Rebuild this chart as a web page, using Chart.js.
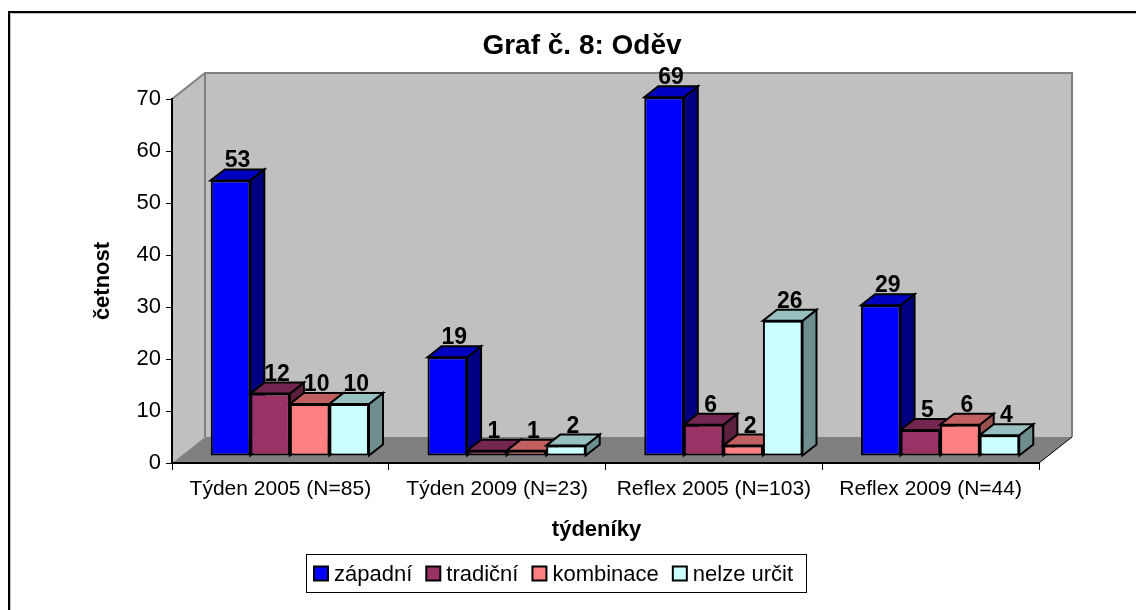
<!DOCTYPE html>
<html>
<head>
<meta charset="utf-8">
<style>
  html, body { margin: 0; padding: 0; background: #fff; }
  #box { width: 1136px; height: 610px; }
</style>
<script src="https://cdn.jsdelivr.net/npm/chart.js@4"></script>
</head>
<body>
<div id="box"><canvas id="chart" width="1136" height="610"></canvas></div>
<script>
var categories = ["Týden 2005 (N=85)", "Týden 2009 (N=23)", "Reflex 2005 (N=103)", "Reflex 2009 (N=44)"];
var zapadni = [53, 19, 69, 29];
var tradicni = [12, 1, 6, 5];
var kombinace = [10, 1, 2, 6];
var nelzeUrcit = [10, 2, 26, 4];
var seriesNames = ["západní", "tradiční", "kombinace", "nelze určit"];

// front, top and side colour of each series
var frontColors = ["#0000ff", "#993366", "#ff8080", "#ccffff"];
var topColors = ["#0000c0", "#732650", "#c06060", "#99c0c0"];
var sideColors = ["#000080", "#5c1f3d", "#995050", "#6e8e8e"];

var FONT = "'Liberation Sans', Arial, sans-serif";

// depth of the box and of the bars, Excel style
var WALL_DX = 33, WALL_DY = 26;
var BAR_DX = 14, BAR_DY = 11;
var SHIFT_X = 9.5, SHIFT_Y = 7;

function poly(ctx, pts, fill, stroke, lw) {
  ctx.beginPath();
  ctx.moveTo(pts[0][0], pts[0][1]);
  for (var i = 1; i < pts.length; i++) ctx.lineTo(pts[i][0], pts[i][1]);
  ctx.closePath();
  if (fill) { ctx.fillStyle = fill; ctx.fill(); }
  if (stroke) { ctx.strokeStyle = stroke; ctx.lineWidth = lw; ctx.stroke(); }
}

// legend with Excel spacing, the native one puts font/2 after the swatch
function drawLegend(chart) {
  var ctx = chart.ctx, lg = chart.legend;
  ctx.save();
  ctx.strokeStyle = "#000";
  ctx.lineWidth = 1;
  ctx.strokeRect(306.5, lg.top + 0.5, 500, lg.height - 1);
  ctx.font = "22px " + FONT;
  ctx.textBaseline = "middle";
  ctx.textAlign = "left";
  var x = 314, mid = lg.top + lg.height / 2;
  lg.legendItems.forEach(function(item) {
    ctx.fillStyle = item.fillStyle;
    ctx.fillRect(x, mid - 7, 14, 14);
    ctx.strokeStyle = "#000";
    ctx.lineWidth = 2;
    ctx.strokeRect(x, mid - 7, 14, 14);
    ctx.fillStyle = "#000";
    ctx.fillText(item.text, x + 20, mid + 1);
    x += 20 + ctx.measureText(item.text).width + 14;
  });
  ctx.restore();
}

var box3d = {
  id: "box3d",
  afterLayout: function(chart) {
    // title and x axis title are not centred on the plot in the original
    chart.titleBlock.left = 0;
    chart.titleBlock.right = 1164;
    var sx = chart.scales.x, drawTitle = sx.drawTitle;
    sx.drawTitle = function() {
      chart.ctx.save();
      chart.ctx.translate(-9, 0);
      drawTitle.call(sx);
      chart.ctx.restore();
    };
    chart.legend.draw = function() { drawLegend(chart); };
  },
  beforeDraw: function(chart) {
    var ctx = chart.ctx;
    ctx.save();

    // only the top and left edge of the chart frame are in the picture
    ctx.strokeStyle = "#c0c0c0";
    ctx.lineWidth = 1;
    ctx.beginPath();
    ctx.moveTo(10.5, 610);
    ctx.lineTo(10.5, 13.5);
    ctx.lineTo(1136, 13.5);
    ctx.stroke();
    ctx.strokeStyle = "#000";
    ctx.lineWidth = 2;
    ctx.beginPath();
    ctx.moveTo(9, 610);
    ctx.lineTo(9, 12);
    ctx.lineTo(1136, 12);
    ctx.stroke();

    var a = chart.chartArea;
    // left wall, back wall, floor
    poly(ctx, [[a.left, a.top], [a.left + WALL_DX, a.top - WALL_DY], [a.left + WALL_DX, a.bottom - WALL_DY], [a.left, a.bottom]], "#c0c0c0");
    poly(ctx, [[a.left + WALL_DX, a.top - WALL_DY], [a.right + WALL_DX, a.top - WALL_DY], [a.right + WALL_DX, a.bottom - WALL_DY], [a.left + WALL_DX, a.bottom - WALL_DY]], "#c0c0c0");
    poly(ctx, [[a.left, a.bottom], [a.left + WALL_DX, a.bottom - WALL_DY], [a.right + WALL_DX, a.bottom - WALL_DY], [a.right, a.bottom]], "#808080");

    ctx.strokeStyle = "#808080";
    ctx.lineWidth = 2;
    ctx.beginPath();
    ctx.moveTo(a.left, a.top);
    ctx.lineTo(a.left + WALL_DX, a.top - WALL_DY);
    ctx.lineTo(a.right + WALL_DX, a.top - WALL_DY);
    ctx.lineTo(a.right + WALL_DX, a.bottom - WALL_DY);
    ctx.moveTo(a.left + WALL_DX, a.top - WALL_DY);
    ctx.lineTo(a.left + WALL_DX, a.bottom - WALL_DY);
    ctx.stroke();

    ctx.strokeStyle = "#000";
    ctx.lineWidth = 1;
    ctx.beginPath();
    ctx.moveTo(a.right, a.bottom);
    ctx.lineTo(a.right + WALL_DX, a.bottom - WALL_DY);
    ctx.stroke();
    ctx.restore();
  },
  beforeDatasetsDraw: function(chart) {
    var ctx = chart.ctx;
    ctx.save();
    ctx.translate(SHIFT_X, -SHIFT_Y);
    // painter's order, left to right within a group
    for (var d = 0; d < chart.data.datasets.length; d++) {
      var meta = chart.getDatasetMeta(d);
      meta.data.forEach(function(bar) {
        var l = bar.x - bar.width / 2, r = bar.x + bar.width / 2;
        var t = bar.y, b = bar.base;
        poly(ctx, [[r, t], [r + BAR_DX, t - BAR_DY], [r + BAR_DX, b - BAR_DY], [r, b]], sideColors[d], "#000", 2);
        poly(ctx, [[l, t], [l + BAR_DX, t - BAR_DY], [r + BAR_DX, t - BAR_DY], [r, t]], topColors[d], "#000", 2);
      });
      meta.controller.draw();
    }
    ctx.restore();

    // value labels on top of everything
    ctx.save();
    ctx.font = "bold 23px " + FONT;
    ctx.fillStyle = "#000";
    ctx.textAlign = "center";
    ctx.textBaseline = "alphabetic";
    for (var s = 0; s < chart.data.datasets.length; s++) {
      chart.getDatasetMeta(s).data.forEach(function(bar, i) {
        ctx.fillText(chart.data.datasets[s].data[i], bar.x + SHIFT_X + BAR_DX / 2, bar.y - SHIFT_Y - 13);
      });
    }
    ctx.restore();
    return false;
  }
};

var allSeries = [zapadni, tradicni, kombinace, nelzeUrcit];
var datasets = [];
for (var i = 0; i < allSeries.length; i++) {
  datasets.push({
    label: seriesNames[i],
    data: allSeries[i],
    backgroundColor: frontColors[i],
    borderColor: "#000",
    borderWidth: 2,
    borderSkipped: false,
    clip: false
  });
}

new Chart(document.getElementById("chart"), {
  type: "bar",
  data: { labels: categories, datasets: datasets },
  plugins: [box3d],
  options: {
    responsive: false,
    animation: false,
    events: [],
    layout: { padding: { left: 90, right: 97, top: 22, bottom: 17 } },
    datasets: { bar: { categoryPercentage: 0.73, barPercentage: 1 } },
    plugins: {
      title: {
        display: true,
        text: "Graf č. 8: Oděv",
        color: "#000",
        font: { family: FONT, size: 28, weight: "bold" },
        padding: { top: 7, bottom: 36.4 }
      },
      legend: {
        position: "bottom",
        labels: {
          color: "#000",
          font: { family: FONT, size: 22 },
          boxWidth: 15,
          boxHeight: 15,
          padding: 7
        }
      },
      tooltip: { enabled: false }
    },
    scales: {
      x: {
        grid: { drawOnChartArea: false, color: "#000", tickLength: 7 },
        border: { color: "#000", width: 2 },
        ticks: { color: "#000", font: { family: FONT, size: 21 }, maxRotation: 0, padding: 7 },
        title: {
          display: true,
          text: "týdeníky",
          color: "#000",
          font: { family: FONT, size: 22, weight: "bold" },
          padding: { top: 10, bottom: 11 }
        },
        afterFit: function(scale) { scale.height = 91; }
      },
      y: {
        min: 0,
        max: 70,
        ticks: { stepSize: 10, color: "#000", font: { family: FONT, size: 22 }, padding: 5 },
        grid: { drawOnChartArea: false, color: "#000", tickLength: 6 },
        border: { color: "#000", width: 2 },
        title: {
          display: true,
          text: "četnost",
          color: "#000",
          font: { family: FONT, size: 22, weight: "bold" },
          padding: { top: 0, bottom: 4 }
        },
        afterFit: function(scale) { scale.width = 82; }
      }
    }
  }
});
</script>
</body>
</html>
